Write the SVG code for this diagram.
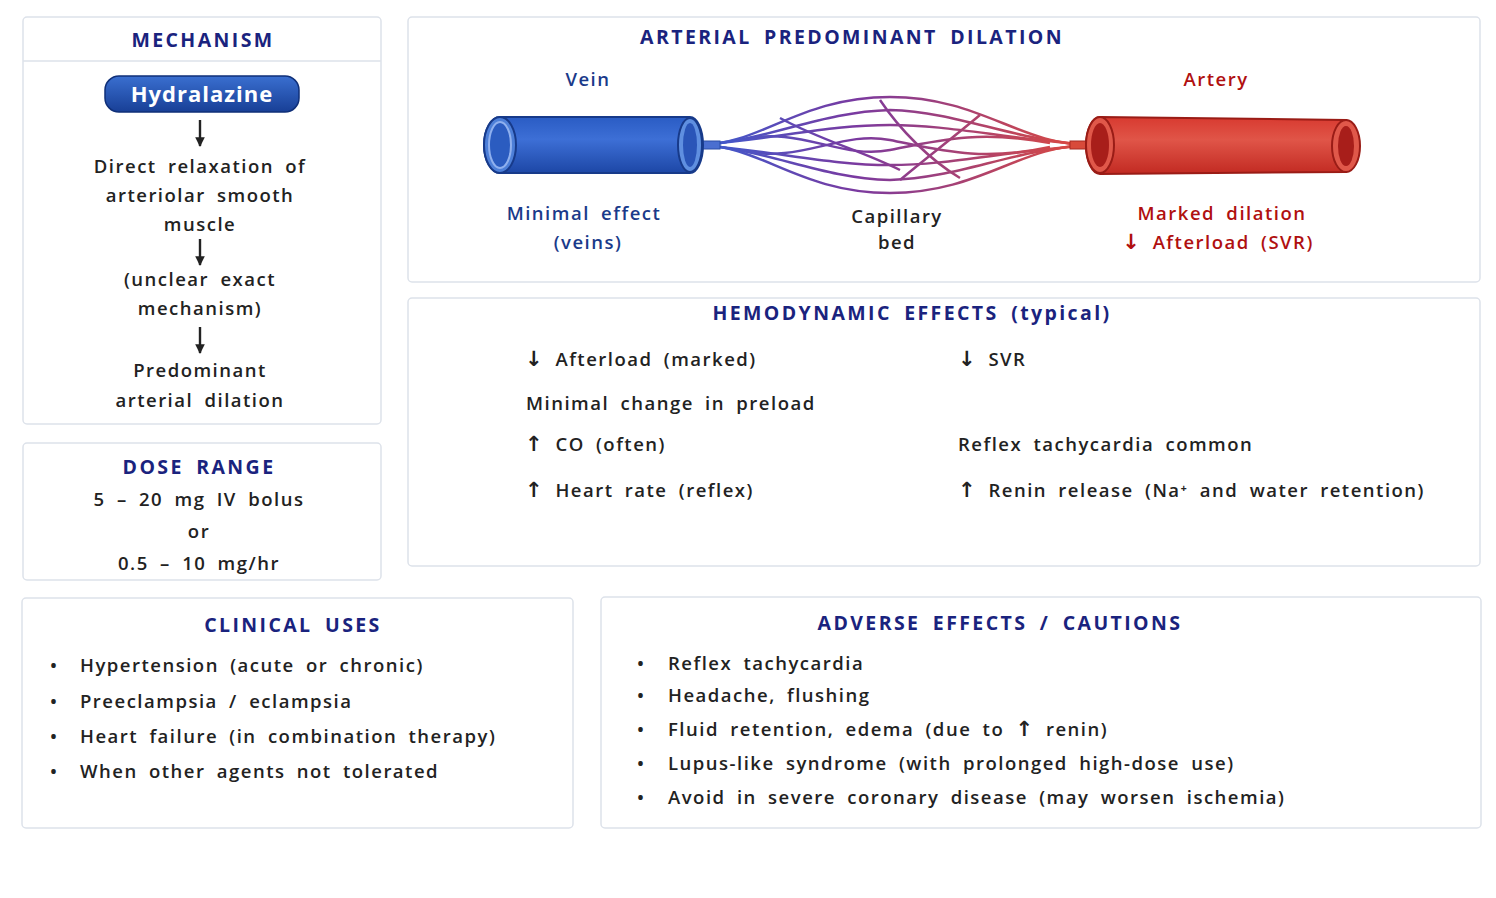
<svg xmlns="http://www.w3.org/2000/svg" width="1496" height="898" viewBox="0 0 1496 898">
<defs>
<style>
.box{fill:#fff;stroke:#dde2ea;stroke-width:1.5}
.t{font-family:"Open Sans","Liberation Sans",sans-serif;font-size:18.5px;font-weight:600;fill:#222;letter-spacing:1.5px;word-spacing:5px}
.c{text-anchor:middle}
.h{font-family:"Open Sans","Liberation Sans",sans-serif;font-size:19.5px;font-weight:700;fill:#1a237e;letter-spacing:2.4px;word-spacing:5px;text-anchor:middle}
.navy{fill:#1a3a8a}
.red{fill:#b01010}
.a{font-family:"DejaVu Sans",sans-serif;font-size:21px;font-weight:700}
.ar{stroke:#222;stroke-width:2.4;fill:none}
</style>
<marker id="ah" viewBox="0 0 10 10" refX="9" refY="5" markerWidth="4" markerHeight="4" orient="auto"><path d="M0,0 L10,5 L0,10 Z" fill="#222"/></marker>
<linearGradient id="pill" x1="0" y1="0" x2="0" y2="1"><stop offset="0" stop-color="#3a6fd0"/><stop offset="1" stop-color="#183f96"/></linearGradient>
<linearGradient id="vein" x1="0" y1="0" x2="0" y2="1"><stop offset="0" stop-color="#2a5cc4"/><stop offset="0.4" stop-color="#3d6fd6"/><stop offset="1" stop-color="#1d47a6"/></linearGradient>
<linearGradient id="art" x1="0" y1="0" x2="0" y2="1"><stop offset="0" stop-color="#d83a30"/><stop offset="0.4" stop-color="#e05548"/><stop offset="1" stop-color="#c22a22"/></linearGradient>
<linearGradient id="cap" x1="700" y1="0" x2="1090" y2="0" gradientUnits="userSpaceOnUse"><stop offset="0" stop-color="#3a5cd0"/><stop offset="0.4" stop-color="#7a3aa0"/><stop offset="1" stop-color="#e04a3a"/></linearGradient>
</defs>
<rect width="1496" height="898" fill="#fff"/>

<g id="mechanism">
<rect class="box" x="23" y="17" width="358" height="407" rx="4"/>
<line x1="23" y1="61" x2="381" y2="61" stroke="#dde2ea" stroke-width="1.5"/>
<text class="h" x="203" y="47">MECHANISM</text>
<rect x="105" y="76" width="194" height="36" rx="14" fill="url(#pill)" stroke="#0f2f78" stroke-width="1.5"/>
<text x="202" y="102" text-anchor="middle" font-family="'Open Sans','Liberation Sans',sans-serif" font-size="22" font-weight="700" fill="#fff" letter-spacing="1">Hydralazine</text>
<line class="ar" x1="200" y1="120" x2="200" y2="146" marker-end="url(#ah)"/>
<text class="t c" x="200" y="173">Direct relaxation of</text>
<text class="t c" x="200" y="202">arteriolar smooth</text>
<text class="t c" x="200" y="231">muscle</text>
<line class="ar" x1="200" y1="239" x2="200" y2="265" marker-end="url(#ah)"/>
<text class="t c" x="200" y="286">(unclear exact</text>
<text class="t c" x="200" y="315">mechanism)</text>
<line class="ar" x1="200" y1="327" x2="200" y2="353" marker-end="url(#ah)"/>
<text class="t c" x="200" y="377">Predominant</text>
<text class="t c" x="200" y="407">arterial dilation</text>
</g>

<g id="dose">
<rect class="box" x="23" y="443" width="358" height="137" rx="4"/>
<text class="h" x="199" y="474">DOSE RANGE</text>
<text class="t c" x="199" y="506">5 – 20 mg IV bolus</text>
<text class="t c" x="199" y="538">or</text>
<text class="t c" x="199" y="570">0.5 – 10 mg/hr</text>
</g>

<g id="arterial">
<rect class="box" x="408" y="17" width="1072" height="265" rx="4"/>
<text class="h" x="852" y="44">ARTERIAL PREDOMINANT DILATION</text>
<text class="t c navy" x="588" y="86">Vein</text>
<text class="t c red" x="1216" y="86">Artery</text>
<g fill="none" stroke="url(#cap)" stroke-width="2.5">
<path d="M700,145 C760,145 800,97 890,97 C980,97 1020,145 1090,145"/>
<path d="M700,145 C760,145 800,193 890,193 C980,193 1020,145 1090,145"/>
<path d="M700,145 C770,140 820,112 890,110 C960,112 1010,140 1090,145"/>
<path d="M700,145 C770,150 820,178 890,180 C960,178 1010,150 1090,145"/>
<path d="M700,145 C780,138 830,125 890,125 C950,125 1000,138 1090,145"/>
<path d="M700,145 C780,152 830,165 890,165 C950,165 1000,152 1090,145"/>
<path d="M740,140 C800,125 840,160 890,150 C940,140 980,130 1050,143"/>
<path d="M740,150 C800,165 840,130 890,140 C940,150 980,162 1050,147"/>
<path d="M780,118 C820,140 860,150 900,170"/>
<path d="M880,100 C900,130 930,160 960,178"/>
<path d="M980,115 C950,140 930,155 900,180"/>
</g>
<rect x="695" y="141" width="25" height="8" fill="#4a6fd0" stroke="#2a4fa8"/>
<rect x="1070" y="141" width="25" height="8" fill="#d84a3a" stroke="#a82a22"/>
<path d="M500,117 L690,117 A13,28 0 0 1 690,173 L500,173 A16,28 0 0 1 500,117 Z" fill="url(#vein)" stroke="#173a8a" stroke-width="2"/>
<ellipse cx="690" cy="145" rx="12" ry="27" fill="#5f8fe0" stroke="#173a8a" stroke-width="2"/>
<ellipse cx="690" cy="145" rx="7" ry="22" fill="#2a55b8"/>
<ellipse cx="500" cy="145" rx="16" ry="28" fill="#4d7fd8" stroke="#173a8a" stroke-width="2"/>
<ellipse cx="500" cy="145" rx="11" ry="23" fill="#2b5cc0" stroke="#8fb0ee" stroke-width="2"/>
<path d="M1100,117 L1346,120 A14,27 0 0 1 1346,172 L1100,174 A14,28.5 0 0 1 1100,117 Z" fill="url(#art)" stroke="#9a1c16" stroke-width="2"/>
<ellipse cx="1100" cy="145" rx="14" ry="28" fill="#e0584a" stroke="#9a1c16" stroke-width="2"/>
<ellipse cx="1100" cy="145" rx="9" ry="22" fill="#a81e1a"/>
<ellipse cx="1346" cy="146" rx="14" ry="26" fill="#e0584a" stroke="#9a1c16" stroke-width="2"/>
<ellipse cx="1346" cy="146" rx="8" ry="20" fill="#a81e1a"/>
<text class="t c navy" x="584" y="220">Minimal effect</text>
<text class="t c navy" x="588" y="249">(veins)</text>
<text class="t c" x="897" y="223">Capillary</text>
<text class="t c" x="897" y="249">bed</text>
<text class="t c red" x="1222" y="220">Marked dilation</text>
<text class="t c red" x="1218" y="249"><tspan class="a">↓</tspan> Afterload (SVR)</text>
</g>

<g id="hemodynamic">
<rect class="box" x="408" y="298" width="1072" height="268" rx="4"/>
<text class="h" x="912" y="320">HEMODYNAMIC EFFECTS (typical)</text>
<text class="t" x="525" y="366"><tspan class="a">↓</tspan> Afterload (marked)</text>
<text class="t" x="958" y="366"><tspan class="a">↓</tspan> SVR</text>
<text class="t" x="526" y="410">Minimal change in preload</text>
<text class="t" x="525" y="451"><tspan class="a">↑</tspan> CO (often)</text>
<text class="t" x="958" y="451">Reflex tachycardia common</text>
<text class="t" x="525" y="497"><tspan class="a">↑</tspan> Heart rate (reflex)</text>
<text class="t" x="958" y="497"><tspan class="a">↑</tspan> Renin release (Na⁺ and water retention)</text>
</g>

<g id="clinical">
<rect class="box" x="22" y="598" width="551" height="230" rx="4"/>
<text class="h" x="293" y="632">CLINICAL USES</text>
<g class="t">
<text x="50" y="672">•</text><text x="80" y="672">Hypertension (acute or chronic)</text>
<text x="50" y="708">•</text><text x="80" y="708">Preeclampsia / eclampsia</text>
<text x="50" y="743">•</text><text x="80" y="743">Heart failure (in combination therapy)</text>
<text x="50" y="778">•</text><text x="80" y="778">When other agents not tolerated</text>
</g>
</g>

<g id="adverse">
<rect class="box" x="601" y="597" width="880" height="231" rx="4"/>
<text class="h" x="1000" y="630">ADVERSE EFFECTS / CAUTIONS</text>
<g class="t">
<text x="637" y="670">•</text><text x="668" y="670">Reflex tachycardia</text>
<text x="637" y="702">•</text><text x="668" y="702">Headache, flushing</text>
<text x="637" y="736">•</text><text x="668" y="736">Fluid retention, edema (due to <tspan class="a">↑</tspan> renin)</text>
<text x="637" y="770">•</text><text x="668" y="770">Lupus-like syndrome (with prolonged high-dose use)</text>
<text x="637" y="804">•</text><text x="668" y="804">Avoid in severe coronary disease (may worsen ischemia)</text>
</g>
</g>
<g id="connectors"></g>
</svg>
